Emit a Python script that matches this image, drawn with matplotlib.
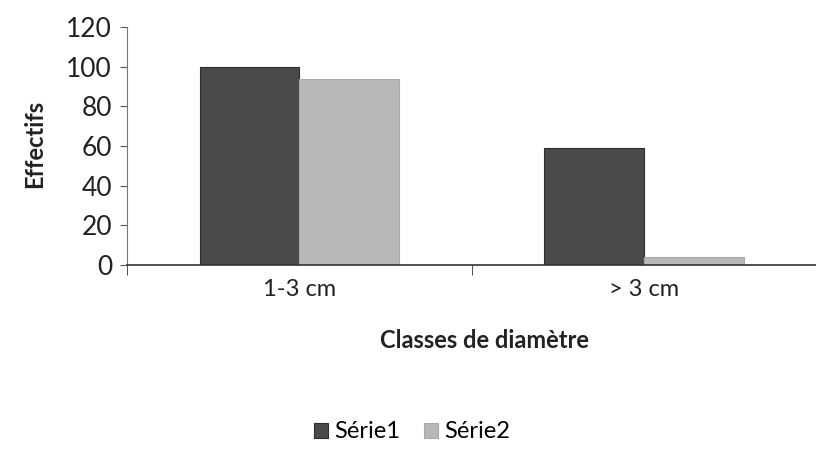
import numpy as np
import matplotlib.pyplot as plt

plt.rcParams['font.family'] = ['Lato', 'DejaVu Sans']

categories = ['1-3 cm', '> 3 cm']
serie1 = [100, 59]
serie2 = [94, 4]
series_names = ['Série1', 'Série2']

fig = plt.figure(figsize=(8.16, 4.49), dpi=100)
ax = fig.add_axes([0.156, 0.41, 0.844, 0.53])

x = np.arange(len(categories))
w = 0.29
ax.bar(x - w / 2, serie1, w, color='#4a4a4a', edgecolor='#2e2e2e', linewidth=0.8, label=series_names[0])
ax.bar(x + w / 2, serie2, w, color='#b8b8b8', edgecolor='#a8a8a8', linewidth=0.8, label=series_names[1])

ax.set_xlim(-0.5, 1.5)
ax.set_ylim(0, 120)
ax.set_yticks(range(0, 121, 20))
ax.set_xticks(x)
ax.set_xticklabels(categories, fontsize=17, color='#222222')
ax.tick_params(axis='x', length=0, pad=10)
ax.set_xticks([-0.5, 0.5, 1.5], minor=True)
ax.tick_params(axis='x', which='minor', length=7, color='#333333')
ax.tick_params(axis='y', labelsize=19, length=5, color='#555555', labelcolor='#222222', pad=6)

for s in ['top', 'right']:
    ax.spines[s].set_visible(False)
ax.spines['left'].set_color('#777777')
ax.spines['bottom'].set_color('#333333')
ax.spines['bottom'].set_linewidth(1.2)

fig.text(0.043, 0.68, 'Effectifs', rotation=90, ha='center', va='center',
         fontsize=17, fontweight='bold', color='#222222')
fig.text(485 / 816, 1 - 340 / 449, 'Classes de diamètre', ha='center', va='center',
         fontsize=17, fontweight='bold', color='#222222')

fig.legend(loc='center', bbox_to_anchor=(412 / 816, 1 - 432 / 449), ncol=2, frameon=False,
           fontsize=17, handlelength=0.6, handleheight=0.6, handletextpad=0.25, columnspacing=1.0)

fig.savefig('out.png', dpi=100)
